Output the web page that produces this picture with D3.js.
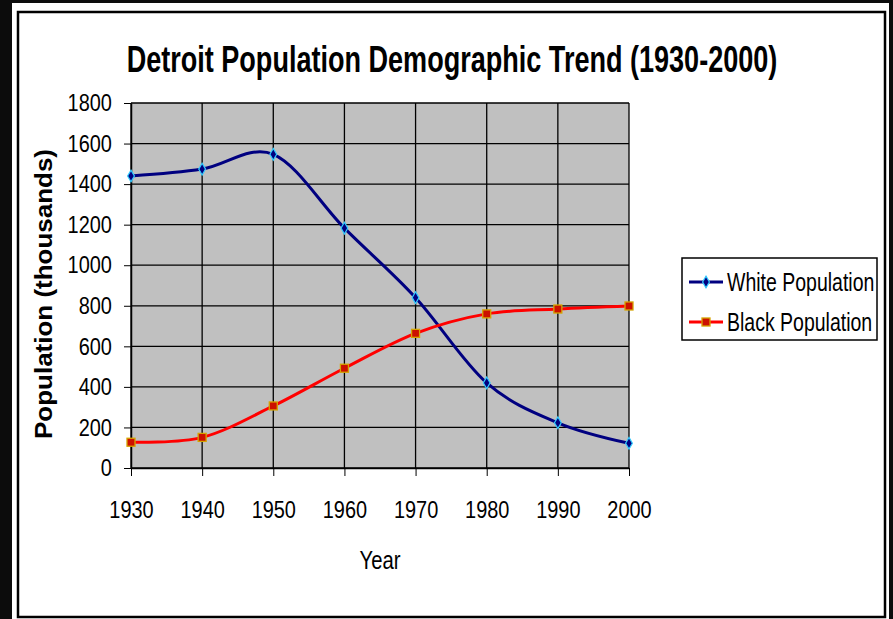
<!DOCTYPE html>
<html>
<head>
<meta charset="utf-8">
<script src="https://cdn.jsdelivr.net/npm/d3@7"></script>
<style>
  body { margin: 0; background: #0c0c0c; }
  text { font-family: "Liberation Sans", Arial, sans-serif; }
</style>
</head>
<body>
<div id="chart"></div>
<script>
var width = 893;
var height = 619;

// data (thousands)
var years = [1930, 1940, 1950, 1960, 1970, 1980, 1990, 2000];
var whitePop = [1440, 1474, 1547, 1183, 840, 420, 223, 122];
var blackPop = [127, 151, 306, 492, 664, 760, 784, 799];
var yTicks = [0, 200, 400, 600, 800, 1000, 1200, 1400, 1600, 1800];
var seriesNames = ['White Population', 'Black Population'];

var svg = d3.select('#chart').append('svg')
            .attr('width', width).attr('height', height);

// outer white card + black frame
svg.append('rect').attr('x', 12).attr('y', 3).attr('width', 877).attr('height', 616).attr('fill', '#fff');
svg.append('rect').attr('x', 18).attr('y', 12).attr('width', 867).attr('height', 605)
   .attr('fill', 'none').attr('stroke', '#000').attr('stroke-width', 2.5);

var x = d3.scaleLinear().domain([1930, 2000]).range([131, 629]);
var y = d3.scaleLinear().domain([0, 1800]).range([468, 103]);

// squeeze a text horizontally so it spans a given width, centred on cx
function fitText(sel, cx, cy, w, rotate){
  var natural = sel.node().getComputedTextLength();
  var k = w / natural;
  if(rotate){
    sel.attr('transform', 'translate(' + cx + ',' + cy + ') rotate(-90) scale(' + k + ',1)');
  } else {
    sel.attr('transform', 'translate(' + cx + ',' + cy + ') scale(' + k + ',1)');
  }
}

// plot background
svg.append('rect')
   .attr('x', x(1930)).attr('y', y(1800))
   .attr('width', x(2000) - x(1930)).attr('height', y(0) - y(1800))
   .attr('fill', '#c0c0c0');

// gridlines
svg.append('g').selectAll('line').data(yTicks).enter().append('line')
   .attr('x1', x(1930)).attr('x2', x(2000))
   .attr('y1', function(d){ return y(d); }).attr('y2', function(d){ return y(d); })
   .attr('stroke', '#000').attr('stroke-width', 1.3);
svg.append('g').selectAll('line').data(years).enter().append('line')
   .attr('x1', function(d){ return x(d); }).attr('x2', function(d){ return x(d); })
   .attr('y1', y(0)).attr('y2', y(1800))
   .attr('stroke', '#000').attr('stroke-width', 1.3);

// axes
var yAxis = svg.append('g').attr('transform', 'translate(' + x(1930) + ',0)')
   .call(d3.axisLeft(y).tickValues(yTicks).tickFormat(d3.format('d')).tickSize(7).tickSizeOuter(0));
yAxis.select('.domain').attr('stroke-width', 1.5);
yAxis.selectAll('text')
   .attr('x', -23).attr('transform', 'scale(0.83,1)')
   .attr('font-size', 24).attr('fill', '#000');

var xAxis = svg.append('g').attr('transform', 'translate(0,' + y(0) + ')')
   .call(d3.axisBottom(x).tickValues(years).tickFormat(d3.format('d')).tickSize(8).tickSizeOuter(0));
xAxis.select('.domain').attr('stroke-width', 1.5);
xAxis.selectAll('text')
   .attr('y', 50).attr('dy', 0).attr('transform', 'scale(0.83,1)')
   .attr('font-size', 24).attr('fill', '#000');

// lines
var line = d3.line()
   .x(function(d, i){ return x(years[i]); })
   .y(function(d){ return y(d); })
   .curve(d3.curveCatmullRom.alpha(0));

svg.append('path').datum(whitePop).attr('d', line)
   .attr('fill', 'none').attr('stroke', '#000080').attr('stroke-width', 3);
svg.append('path').datum(blackPop).attr('d', line)
   .attr('fill', 'none').attr('stroke', '#ff0000').attr('stroke-width', 3);

// markers
var diamond = d3.symbol().type(d3.symbolDiamond).size(40);
svg.append('g').selectAll('path').data(whitePop).enter().append('path')
   .attr('d', diamond)
   .attr('transform', function(d, i){ return 'translate(' + x(years[i]) + ',' + y(d) + ')'; })
   .attr('fill', '#000080').attr('stroke', '#33ccff').attr('stroke-width', 1.2);
svg.append('g').selectAll('rect').data(blackPop).enter().append('rect')
   .attr('x', function(d, i){ return x(years[i]) - 4; })
   .attr('y', function(d){ return y(d) - 4; })
   .attr('width', 8).attr('height', 8)
   .attr('fill', '#cc1100').attr('stroke', '#d6a400').attr('stroke-width', 1.3);

// title
var title = svg.append('text')
   .attr('text-anchor', 'middle')
   .attr('font-size', 36).attr('font-weight', 'bold')
   .text('Detroit Population Demographic Trend (1930-2000)');
fitText(title, 452, 72, 651, false);

// axis titles
svg.append('text')
   .attr('transform', 'translate(380,569) scale(0.78,1)')
   .attr('text-anchor', 'middle')
   .attr('font-size', 26)
   .text('Year');

var yTitle = svg.append('text')
   .attr('text-anchor', 'middle')
   .attr('font-size', 24).attr('font-weight', 'bold')
   .text('Population (thousands)');
fitText(yTitle, 52, 294, 290, true);

// legend
var legend = svg.append('g');
legend.append('rect')
   .attr('x', 682).attr('y', 258).attr('width', 195).attr('height', 82)
   .attr('fill', '#fff').attr('stroke', '#000').attr('stroke-width', 1.5);

var legendRows = legend.selectAll('g.row').data(seriesNames).enter().append('g')
   .attr('class', 'row')
   .attr('transform', function(d, i){ return 'translate(0,' + (282 + i * 40) + ')'; });
legendRows.append('line')
   .attr('x1', 689).attr('x2', 723)
   .attr('stroke', function(d, i){ return i === 0 ? '#000080' : '#ff0000'; })
   .attr('stroke-width', 3);
legendRows.each(function(d, i){
  var g = d3.select(this);
  if(i === 0){
    g.append('path').attr('d', diamond).attr('transform', 'translate(706,0)')
     .attr('fill', '#000080').attr('stroke', '#33ccff').attr('stroke-width', 1.2);
  } else {
    g.append('rect').attr('x', 702).attr('y', -4).attr('width', 8).attr('height', 8)
     .attr('fill', '#cc1100').attr('stroke', '#d6a400').attr('stroke-width', 1.3);
  }
});
legendRows.append('text')
   .attr('transform', 'translate(727,9) scale(0.78,1)')
   .attr('font-size', 25)
   .text(function(d){ return d; });
</script>
</body>
</html>
